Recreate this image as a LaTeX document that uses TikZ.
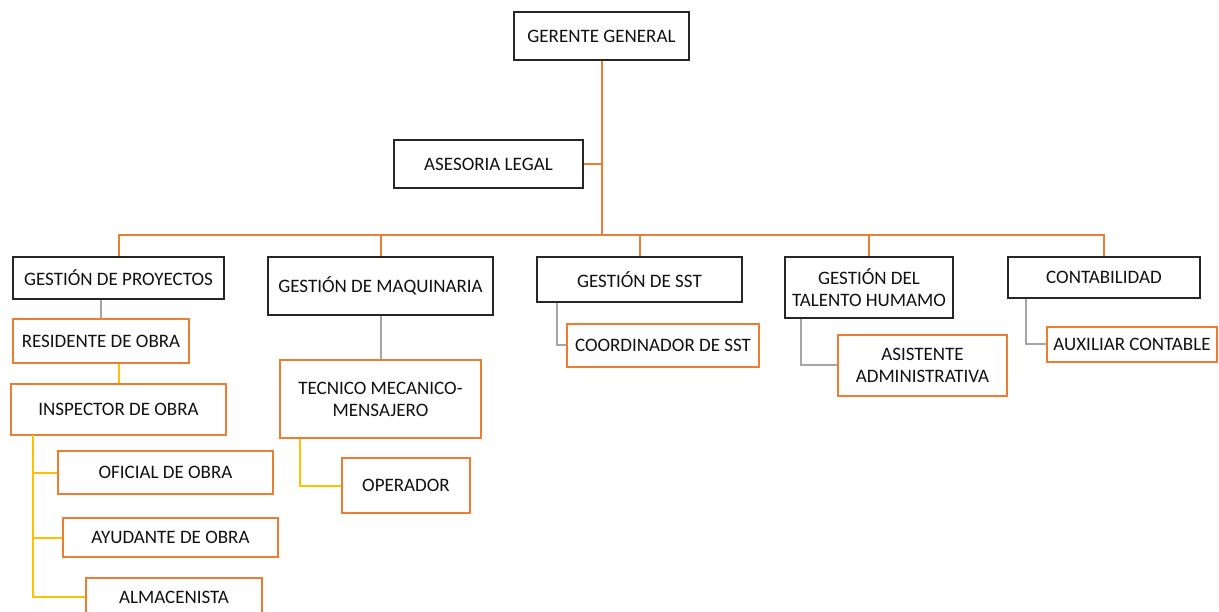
\documentclass[tikz,border=0pt]{standalone}
\usepackage{fontspec}
\setmainfont{Carlito}
\definecolor{orgline}{HTML}{ED7D31}
\definecolor{yelline}{HTML}{FFC000}
\definecolor{gryline}{HTML}{A5A5A5}
\definecolor{txt}{HTML}{111111}
\begin{document}
\begin{tikzpicture}[x=1pt,y=-1pt,
  base/.style={rectangle, inner sep=0pt, align=center, text=txt,
    font=\fontsize{19}{22}\selectfont, fill=white},
  headbox/.style={base, draw=black!85, line width=2.2pt},
  subbox/.style={base, draw=orgline, line width=2pt},
  orgconn/.style={draw=orgline, line width=2pt},
  yelconn/.style={draw=yelline, line width=2pt},
  gryconn/.style={draw=gryline, line width=2pt}]
\useasboundingbox (0,0) rectangle (1219,612);
\fill[white] (0,0) rectangle (1219,612);
\coordinate (bus) at (601,235);
% nodes
\node[headbox, minimum width=175pt, minimum height=48pt] (gg) at (601.5,36) {GERENTE GENERAL};
\node[headbox, minimum width=189pt, minimum height=48pt] (al) at (488.5,164) {ASESORIA LEGAL};
\node[headbox, minimum width=211pt, minimum height=42pt] (gp) at (118.5,278) {GESTIÓN DE PROYECTOS};
\node[headbox, minimum width=225pt, minimum height=58pt] (gm) at (380.5,286) {GESTIÓN DE MAQUINARIA};
\node[headbox, minimum width=205pt, minimum height=45pt] (gsst) at (639.5,279.5) {GESTIÓN DE SST};
\node[headbox, minimum width=168pt, minimum height=61pt] (gt) at (869,287.5) {GESTIÓN DEL\\TALENTO HUMAMO};
\node[headbox, minimum width=192pt, minimum height=41pt] (co) at (1104,277.5) {CONTABILIDAD};
\node[subbox, minimum width=176pt, minimum height=44pt] (ro) at (101,341) {RESIDENTE DE OBRA};
\node[subbox, minimum width=215pt, minimum height=51pt] (io) at (118.5,409.5) {INSPECTOR DE OBRA};
\node[subbox, minimum width=215pt, minimum height=43pt] (of) at (165.5,472.5) {OFICIAL DE OBRA};
\node[subbox, minimum width=215pt, minimum height=39pt] (ay) at (170.5,537.5) {AYUDANTE DE OBRA};
\node[subbox, minimum width=176pt, minimum height=38pt] (am) at (174,597) {ALMACENISTA};
\node[subbox, minimum width=201pt, minimum height=78pt] (tm) at (380.5,399) {TECNICO MECANICO-\\MENSAJERO};
\node[subbox, minimum width=128pt, minimum height=55pt] (op) at (406,485.5) {OPERADOR};
\node[subbox, minimum width=192pt, minimum height=43pt] (cs) at (663,345.5) {COORDINADOR DE SST};
\node[subbox, minimum width=169pt, minimum height=61pt] (aa) at (922.5,365.5) {ASISTENTE\\ADMINISTRATIVA};
\node[subbox, minimum width=170pt, minimum height=35pt] (ac) at (1132,344.5) {AUXILIAR CONTABLE};
% orange trunk and bus
\draw[orgconn] (gg.south) -- (gg.south |- bus);
\draw[orgconn] (al.east) -- (al.east -| gg.south);
\draw[orgconn] (gp.north) -- (gp.north |- bus) -- (co.north |- bus) -- (co.north);
\draw[orgconn] (gm.north) -- (gm.north |- bus);
\draw[orgconn] (gsst.north) -- (gsst.north |- bus);
\draw[orgconn] (gt.north) -- (gt.north |- bus);
% gray
\draw[gryconn] (ro.north) -- (ro.north |- gp.south);
\draw[gryconn] (gm.south) -- (tm.north);
\draw[gryconn] ([xshift=21pt]gsst.south west) |- (cs.west);
\draw[gryconn] ([xshift=17pt]gt.south west) |- (aa.west);
\draw[gryconn] ([xshift=19pt]co.south west) |- (ac.west);
% yellow
\draw[yelconn] (io.north) -- (io.north |- ro.south);
\coordinate (sp) at (33,435);
\draw[yelconn] (sp) |- (of.west);
\draw[yelconn] (sp) |- (ay.west);
\draw[yelconn] (sp) |- (am.west);
\draw[yelconn] ([xshift=21pt]tm.south west) |- (op.west);
\end{tikzpicture}
\end{document}
